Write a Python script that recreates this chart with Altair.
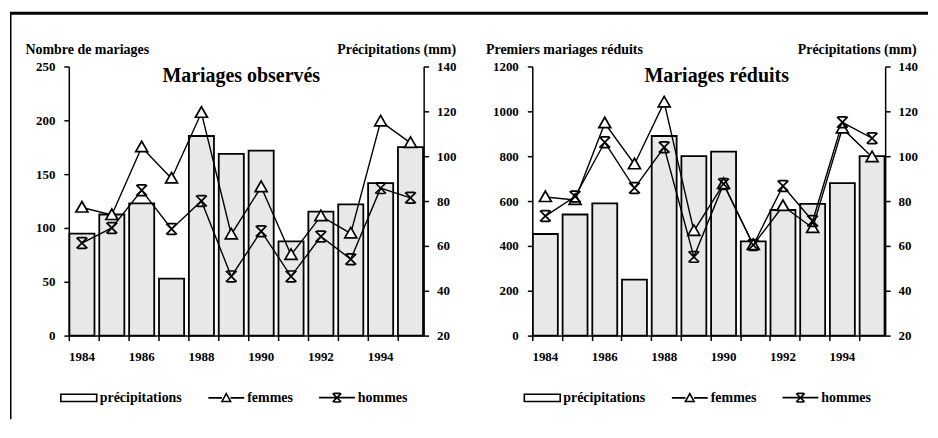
import altair as alt
import pandas as pd

# ---------------- data ----------------
annees = list(range(1984, 1996))
series = ["précipitations", "femmes", "hommes"]

# panel 1 : Mariages observés
precip_obs = [65.5, 74, 79, 45.4, 109, 101, 102.5, 62, 75.3, 78.5, 88, 104]
femmes_obs = [119, 112, 175, 146, 207, 94, 138, 75, 111, 95, 199, 179]
hommes_obs = [86, 100, 135, 99, 125, 55, 97, 55, 92, 71, 137, 128]

# panel 2 : Mariages réduits
precip_red = [65.3, 74, 79, 45, 109, 100, 102, 62, 76, 78.7, 88, 100]
femmes_red = [618, 605, 947, 764, 1040, 467, 676, 404, 578, 480, 924, 796]
hommes_red = [533, 620, 862, 658, 840, 351, 676, 404, 667, 511, 951, 880]

left_ticks_obs = [0, 50, 100, 150, 200, 250]
left_ticks_red = [0, 200, 400, 600, 800, 1000, 1200]
right_ticks = [20, 40, 60, 80, 100, 120, 140]

FONT = "Liberation Serif"

# marker shapes
TRI = "M-1,0.75L0,-1L1,0.75Z"
HG = "M-0.9,-0.9L0.9,0.9M0.9,-0.9L-0.9,0.9M-0.7,-0.9L0.7,-0.9M-0.7,0.9L0.7,0.9"
# legend symbols (line + marker)
LEG_RECT = "M-1,-0.2L1,-0.2L1,0.2L-1,0.2Z"
LEG_TRI = "M-1,0L-0.24,0M0.24,0L1,0M-0.24,0.2L0,-0.24L0.24,0.2Z"
LEG_HG = ("M-1,0L1,0M-0.24,-0.24L0.24,0.24M0.24,-0.24L-0.24,0.24"
          "M-0.18,-0.24L0.18,-0.24M-0.18,0.24L0.18,0.24")

H = 270


def panel(precip, femmes, hommes, left_ticks, left_title, left_title_x,
          title, title_x, right_title_x, width, frame=False):
    bars_df = pd.DataFrame({"annee": annees, "precip": precip})
    long_df = pd.DataFrame({
        "annee": annees * 2,
        "serie": ["femmes"] * len(annees) + ["hommes"] * len(annees),
        "valeur": femmes + hommes,
    })

    x_enc = alt.X(
        "annee:O",
        scale=alt.Scale(paddingInner=0.16, paddingOuter=0.02),
        axis=alt.Axis(title=None, labelAngle=0, bandPosition=0,
                      labelExpr="datum.value % 2 == 0 ? datum.label : ''",
                      tickSize=5, labelPadding=10, labelFontSize=13),
    )

    y_right = alt.Y(
        "precip:Q",
        scale=alt.Scale(domain=[right_ticks[0], right_ticks[-1]], nice=False, zero=False),
        axis=alt.Axis(orient="right", values=right_ticks, title="Précipitations (mm)",
                      titleAngle=0, titleAlign="right", titleBaseline="alphabetic",
                      titleX=right_title_x, titleY=-13, labelPadding=8, tickSize=5,
                      format="d"),
    )

    left_axis = alt.Axis(orient="left", values=left_ticks, title=left_title,
                         titleAngle=0, titleAlign="left", titleBaseline="alphabetic",
                         titleX=left_title_x, titleY=-13, labelPadding=9, tickSize=5,
                         format="d")
    y_left = alt.Y("valeur:Q",
                   scale=alt.Scale(domain=[left_ticks[0], left_ticks[-1]], nice=False),
                   axis=left_axis)

    bars = alt.Chart(bars_df).mark_bar(fill="#e8e8e8", stroke="black", strokeWidth=1.8).encode(
        x=x_enc, y=y_right, y2=alt.datum(right_ticks[0])
    )

    lines = alt.Chart(long_df).mark_line(color="black", strokeWidth=1.4).encode(
        x=x_enc, y=y_left, detail="serie:N"
    )

    points = alt.Chart(long_df).mark_point(
        filled=True, fill="white", stroke="black", strokeWidth=1.7, size=144, opacity=1
    ).encode(
        x=x_enc, y=y_left,
        shape=alt.Shape("serie:N",
                        scale=alt.Scale(domain=["femmes", "hommes"], range=[TRI, HG]),
                        legend=None),
    )

    legpts = alt.Chart(long_df).mark_point(
        filled=False, color="black", opacity=0
    ).encode(
        x=x_enc, y=y_left,
        shape=alt.Shape("serie:N",
                        scale=alt.Scale(domain=series, range=[LEG_RECT, LEG_TRI, LEG_HG]),
                        legend=alt.Legend(orient="none", legendX=-9, legendY=313,
                                          direction="horizontal", columns=3,
                                          columnPadding=22, symbolSize=1296,
                                          symbolOpacity=1, symbolStrokeWidth=1.6,
                                          symbolStrokeColor="black",
                                          labelFont=FONT, labelFontSize=14,
                                          labelFontWeight="bold", labelColor="black",
                                          labelOffset=2, title=None, padding=0)),
    )

    inner = alt.layer(lines, points, legpts).resolve_scale(shape="independent")

    title_txt = alt.Chart(alt.Data(values=[{"t": title}])).mark_text(
        font=FONT, fontSize=20, fontWeight="bold", align="center",
        baseline="alphabetic", color="black"
    ).encode(text="t:N", x=alt.value(title_x), y=alt.value(16))

    layers = [bars, inner, title_txt]
    if frame:
        one = alt.Data(values=[{"k": 1}])
        top_line = alt.Chart(one).mark_rule(color="black", strokeWidth=3).encode(
            x=alt.value(-59), x2=alt.value(862), y=alt.value(-53.5))
        left_line = alt.Chart(one).mark_rule(color="black", strokeWidth=1.5).encode(
            x=alt.value(-58.25), y=alt.value(-53.5), y2=alt.value(354))
        layers += [top_line, left_line]

    return alt.layer(*layers).resolve_scale(y="independent").properties(width=width, height=H)


p1 = panel(precip_obs, femmes_obs, hommes_obs, left_ticks_obs, "Nombre de mariages", -44,
           "Mariages observés", 173, 32, 356, frame=True)
p2 = panel(precip_red, femmes_red, hommes_red, left_ticks_red, "Premiers mariages réduits", -47,
           "Mariages réduits", 185, 31, 354)

chart = alt.hconcat(p1, p2, spacing=109, bounds="flush").resolve_scale(
    shape="independent").resolve_legend(shape="independent").properties(
    padding={"left": 0, "top": 3, "right": 0, "bottom": 0}
).configure_view(strokeOpacity=0).configure_axis(
    labelFont=FONT, labelFontSize=13, labelFontWeight="bold", labelColor="black",
    titleFont=FONT, titleFontSize=14, titleFontWeight="bold", titleColor="black",
    domainColor="black", tickColor="black", domainWidth=1.5, tickWidth=1.5, grid=False
)

chart.save("out.html", embed_options={"renderer": "svg", "actions": False})
